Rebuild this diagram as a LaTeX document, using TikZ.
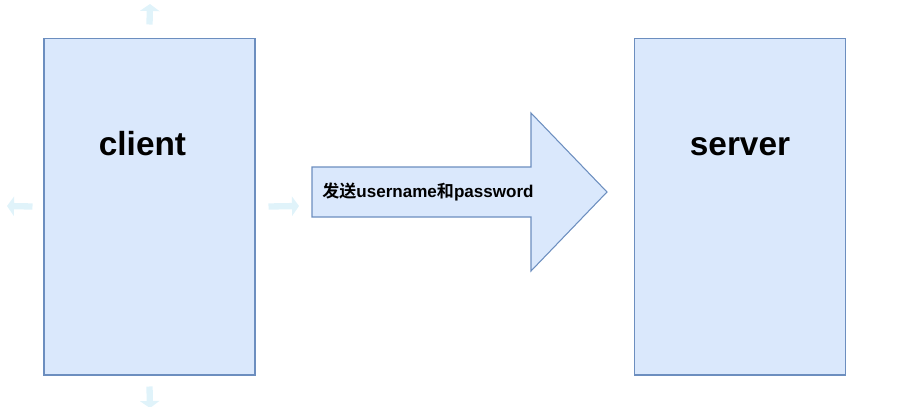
\documentclass[tikz,border=0pt]{standalone}
\usepackage{fontspec}
\setmainfont{Liberation Sans}
\newfontfamily\cjk{Noto Sans CJK SC}[BoldFont={Noto Sans CJK SC Bold}]
\usetikzlibrary{arrows.meta}
\definecolor{boxfill}{HTML}{DAE8FC}
\definecolor{boxline}{HTML}{6C8EBF}
\definecolor{hint}{HTML}{E0F3FA}
\tikzset{
  panel/.style={draw=boxline, fill=boxfill, line width=0.6pt, minimum width=4.22cm, minimum height=6.74cm, inner sep=0pt},
  panellbl/.style={font=\bfseries\fontsize{19}{21}\selectfont, text=black, anchor=base},
  msg/.style={font=\bfseries\fontsize{9.7}{12}\selectfont, text=black, anchor=west, inner sep=0pt},
  hintarrow/.style={draw=hint, line width=3.6pt, -{Triangle[width=11pt,length=4pt]}},
}
\begin{document}
\begin{tikzpicture}[x=0.02cm, y=-0.02cm]
\useasboundingbox (0,0) rectangle (906,406);
% the two parties
\node[panel] (client) at (149.5,206.5) {};
\node[panel] (server) at (740,206.5) {};
\node[panellbl] (clientlbl) at (142.5,155) {client};
\node[panellbl] (serverlbl) at (740,155) {server};

% big arrow carrying the message
\coordinate (tail) at (312,192);
\coordinate (tip) at (607,192);
\draw[draw=boxline, fill=boxfill, line width=0.6pt]
  (tail) ++(0,-25) -- (531,167) -- (531,113) -- (tip) -- (531,271) -- (531,217) -- (312,217) -- cycle;
\node[msg] (sendlbl) at (322,192) {{\cjk 发送}username{\cjk 和}password};

% faint hover handles round the client box
\coordinate (hn) at (150,4);
\coordinate (hs) at (150,408);
\coordinate (hw) at (7,206);
\coordinate (he) at (299,206);
\draw[hintarrow] ([yshift=0.26cm]client.north) -- (hn);
\draw[hintarrow] ([yshift=-0.22cm]client.south) -- (hs);
\draw[hintarrow] ([xshift=-0.22cm]client.west) -- (hw);
\draw[hintarrow] ([xshift=0.26cm]client.east) -- (he);
\end{tikzpicture}
\end{document}
